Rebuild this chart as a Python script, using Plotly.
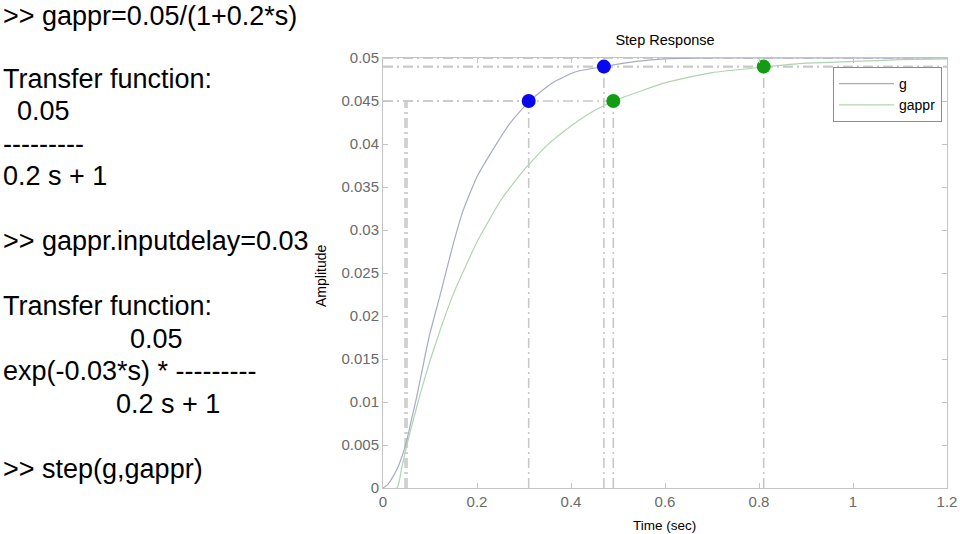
import plotly.graph_objects as go

# ---- data ----
t_g = [0, 0.01, 0.02, 0.03, 0.04, 0.05, 0.06, 0.07, 0.08, 0.09, 0.10, 0.12, 0.15, 0.17,
       0.20, 0.23, 0.27, 0.31, 0.36, 0.41, 0.47, 0.54, 0.60, 0.70, 0.80, 0.90, 1.0, 1.1, 1.2]
y_g = [0, 0.0004, 0.0012, 0.0022, 0.0036, 0.0054, 0.0078, 0.0102, 0.0128, 0.0155, 0.0180,
       0.0221, 0.0285, 0.0322, 0.0362, 0.0390, 0.0424, 0.0449, 0.0471, 0.0484, 0.0490,
       0.0496, 0.0499, 0.0500, 0.0500, 0.0500, 0.0500, 0.0500, 0.0500]

t_appr = [0, 0.03, 0.04, 0.05, 0.06, 0.08, 0.10, 0.12, 0.15, 0.20, 0.25, 0.30, 0.35, 0.40,
          0.45, 0.50, 0.60, 0.70, 0.80, 0.90, 1.0, 1.1, 1.2]
y_appr = [0, 0, 0.0024, 0.0048, 0.0070, 0.0111, 0.0148, 0.0181, 0.0226, 0.0286, 0.0334,
          0.0370, 0.0399, 0.0421, 0.0439, 0.0452, 0.0471, 0.0483, 0.0489, 0.0494, 0.0496,
          0.0498, 0.0499]

systems = ["g", "gappr"]
rise_start = [0.047, 0.051]
rise_time = [0.31, 0.49]
rise_level = [0.045, 0.045]
settle_time = [0.47, 0.81]
settle_level = [0.049, 0.049]
final_value = [0.05, 0.05]

x_ticks = [0, 0.2, 0.4, 0.6, 0.8, 1, 1.2]
y_ticks = [0, 0.005, 0.01, 0.015, 0.02, 0.025, 0.03, 0.035, 0.04, 0.045, 0.05]

console_lines = [
    ">> gappr=0.05/(1+0.2*s)",
    "Transfer function:",
    "0.05",
    "---------",
    "0.2 s + 1",
    ">> gappr.inputdelay=0.03",
    "Transfer function:",
    "0.05",
    "exp(-0.03*s) * ---------",
    "0.2 s + 1",
    ">> step(g,gappr)",
]

# ---- styling / layout ----
W, H = 960, 534
PL, PR, PT, PB = 383, 947, 58, 488   # plot area in pixels
curve_colors = ["#a6acc4", "#b0d4b0"]
marker_colors = ["#0808ee", "#139c13"]
dash_color = "#c8c8c8"
font = "Liberation Sans, Arial, sans-serif"


def fx(p):
    return p / W


def fy(p):
    return 1 - p / H


fig = go.Figure()

# characteristic dashed lines
for i in range(2):
    xs, ys = [], []
    segs = [
        ([rise_start[i], rise_start[i]], [0, rise_level[i]]),
        ([0, rise_time[i]], [rise_level[i], rise_level[i]]),
        ([rise_time[i], rise_time[i]], [0, rise_level[i]]),
        ([settle_time[i], settle_time[i]], [0, settle_level[i]]),
        ([0, x_ticks[-1]], [settle_level[i], settle_level[i]]),
        ([0, x_ticks[-1]], [final_value[i], final_value[i]]),
    ]
    for sx, sy in segs:
        xs += sx + [None]
        ys += sy + [None]
    fig.add_trace(go.Scatter(x=xs, y=ys, mode="lines", showlegend=False, hoverinfo="skip",
                             line=dict(color=dash_color, width=1.6, dash="10px,4px,2px,4px")))

fig.add_trace(go.Scatter(x=t_g, y=y_g, mode="lines", name=systems[0],
                         line=dict(color=curve_colors[0], width=1.2, shape="spline", smoothing=0.5)))
fig.add_trace(go.Scatter(x=t_appr, y=y_appr, mode="lines", name=systems[1],
                         line=dict(color=curve_colors[1], width=1.2, shape="spline", smoothing=0.5)))

for i in range(2):
    fig.add_trace(go.Scatter(x=[rise_time[i], settle_time[i]], y=[rise_level[i], settle_level[i]],
                             mode="markers", showlegend=False,
                             marker=dict(color=marker_colors[i], size=14, line=dict(width=0))))

console_x = [2, 2, 16, 2, 2, 2, 2, 129, 2, 115, 2]
console_y = [16, 78.6, 111.1, 143.6, 176.1, 241.1, 306.1, 338.6, 371.1, 403.6, 468.6]
annotations = []
for txt, xp, yp in zip(console_lines, console_x, console_y):
    annotations.append(dict(text=txt, xref="paper", yref="paper", x=fx(xp), y=fy(yp),
                            xanchor="left", yanchor="middle", showarrow=False, borderpad=0,
                            font=dict(family=font, size=27, color="#000000")))

annotations.append(dict(text="Amplitude", xref="paper", yref="paper", x=fx(321), y=fy(276),
                        textangle=-90, xanchor="center", yanchor="middle", showarrow=False,
                        font=dict(family=font, size=14, color="#000000")))
annotations.append(dict(text="Time (sec)", xref="paper", yref="paper", x=fx(664), y=fy(525),
                        xanchor="center", yanchor="middle", showarrow=False,
                        font=dict(family=font, size=13.5, color="#000000")))

axis_common = dict(showline=True, linecolor="#c4c4c4", linewidth=1, mirror="ticks",
                   ticks="inside", ticklen=5, tickcolor="#c4c4c4", showgrid=False, zeroline=False,
                   automargin=False,
                   tickfont=dict(family=font, size=15, color="#6a6a6a"))

fig.update_layout(
    width=W, height=H,
    margin=dict(l=0, r=0, t=0, b=0, pad=0),
    paper_bgcolor="white", plot_bgcolor="white",
    title=dict(text="Step Response", xref="paper", yref="paper", x=fx(665), xanchor="center",
               y=fy(40), yanchor="middle",
               font=dict(family=font, size=14.5, color="#000000")),
    xaxis=dict(domain=[fx(PL), fx(PR)], range=[0, 1.2], tickvals=x_ticks,
               ticktext=[f"{v:g}" for v in x_ticks], **axis_common),
    yaxis=dict(domain=[fy(PB), fy(PT)], range=[0, 0.05], tickvals=y_ticks,
               ticktext=[f"{v:g}" for v in y_ticks], **axis_common),
    legend=dict(x=fx(942), xanchor="right", y=fy(67), yanchor="top",
                bordercolor="#8c8c8c", borderwidth=1, bgcolor="white",
                font=dict(family=font, size=14, color="#000000"), itemwidth=55,
                tracegroupgap=0),
    annotations=annotations,
    showlegend=True,
)

fig.write_html("out.html")
